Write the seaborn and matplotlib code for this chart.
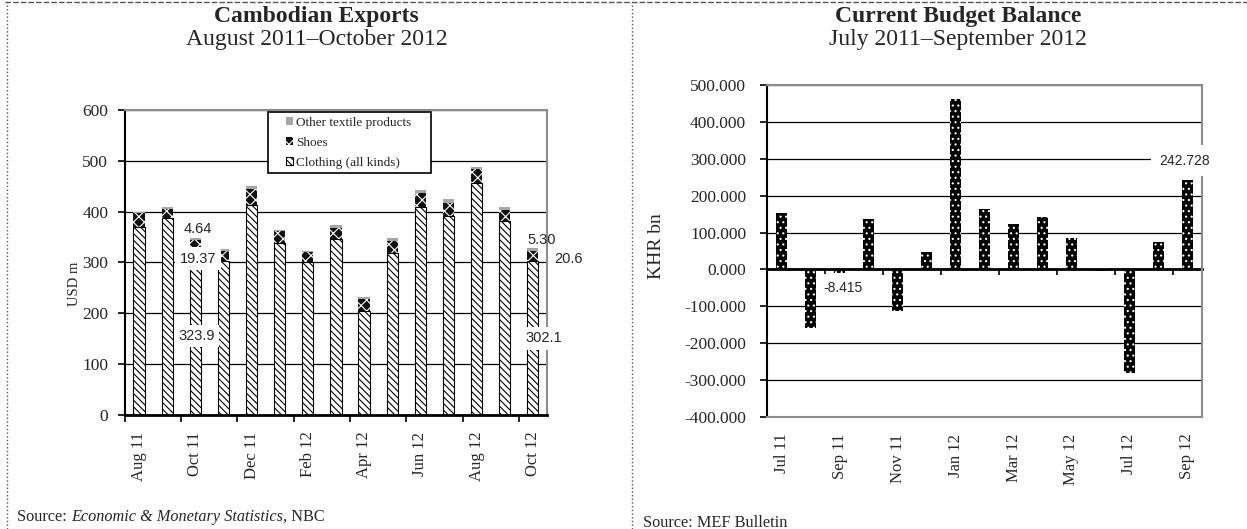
import matplotlib
matplotlib.use("Agg")
import matplotlib.pyplot as plt
from matplotlib.lines import Line2D
from matplotlib.patches import Rectangle
from matplotlib.legend_handler import HandlerPatch
from matplotlib.text import Annotation
import numpy as np
import pandas as pd
import seaborn as sns

# Cambodian exports, USD m (stacked: clothing, shoes, other textile products)
export_months = ["Aug 11", "Sep 11", "Oct 11", "Nov 11", "Dec 11", "Jan 12", "Feb 12", "Mar 12",
                 "Apr 12", "May 12", "Jun 12", "Jul 12", "Aug 12", "Sep 12", "Oct 12"]
clothing = [369, 387, 323.9, 303, 413, 338, 300, 346, 205, 318, 410, 392, 456, 381, 302.1]
shoes = [28, 18, 19.37, 20, 32, 23, 20, 22, 23, 25, 27, 26, 27, 23, 20.6]
other_textiles = [3, 5, 4.64, 4, 5, 3, 3, 5, 4, 5, 6, 6, 5, 5, 5.30]
export_legend = ["Other textile products", "Shoes", "Clothing (all kinds)"]

# Current budget balance, KHR bn
budget_months = ["Jul 11", "Aug 11", "Sep 11", "Oct 11", "Nov 11", "Dec 11", "Jan 12", "Feb 12",
                 "Mar 12", "Apr 12", "May 12", "Jun 12", "Jul 12", "Aug 12", "Sep 12"]
budget_balance = [154, -158, -8.415, 136, -113, 48, 461, 163, 123, 142, 85, -3, -281, 75, 242.728]

sns.set_style("white")
plt.rcParams["font.family"] = ["Liberation Serif", "DejaVu Serif"]
plt.rcParams["hatch.linewidth"] = 0.8
SANS = ["Liberation Sans", "DejaVu Sans"]
GREY = "#8c8c8c"

fig = plt.figure(figsize=(12.47, 5.29), dpi=100)
ax1 = fig.add_axes([0.1002, 0.2155, 0.3384, 0.5766])
ax2 = fig.add_axes([0.6151, 0.2117, 0.3488, 0.6276])

# ---------------- left: exports ----------------
exp = pd.DataFrame({"month": export_months, "clothing": clothing,
                    "shoes": shoes, "other": other_textiles})
exp["shoes_top"] = exp["clothing"] + exp["shoes"]
exp["total"] = exp["shoes_top"] + exp["other"]

sns.barplot(data=exp, x="month", y="total", color="#a6a6a6", width=0.4, saturation=1, ax=ax1)
sns.barplot(data=exp, x="month", y="shoes_top", color="#111111", width=0.4, saturation=1, ax=ax1)
sns.barplot(data=exp, x="month", y="clothing", color="white", width=0.4, saturation=1, ax=ax1)
other_bars, shoe_bars, cloth_bars = ax1.containers
for p in other_bars:
    p.set_linewidth(0)
for p in shoe_bars:
    p.set_hatch("xxx")
    p.set_edgecolor("white")
    p.set_linewidth(0)
for p in cloth_bars:
    p.set_hatch("\\\\\\\\\\")
    p.set_edgecolor("black")
    p.set_linewidth(0.8)

ax1.set_ylim(0, 600)
ax1.set_yticks(range(0, 601, 100))
ax1.set_xlim(-0.5, len(export_months) - 0.5)
ax1.grid(axis="y", color="black", linewidth=0.9)
ax1.set_xticks(range(0, len(export_months), 2))
ax1.set_xticklabels(export_months[::2], rotation=90)
ax1.set_xticks(np.arange(-0.5, len(export_months) - 1, 2), minor=True)
ax1.tick_params(axis="x", which="major", bottom=True, length=0, pad=12, labelsize=12)
ax1.tick_params(axis="x", which="minor", bottom=True, length=5, width=1.2, color="black", direction="out")
ax1.tick_params(axis="y", left=True, length=5, width=1.2, color="black", direction="out", labelsize=12.5, pad=7)
ax1.set_xlabel("")
ax1.set_ylabel("USD m", fontsize=10.5)
ax1.yaxis.set_label_coords(-0.104, 0.43)
for side, col, lw in [("left", "black", 1.5), ("bottom", "black", 2), ("top", GREY, 1.5), ("right", GREY, 1.5)]:
    ax1.spines[side].set_color(col)
    ax1.spines[side].set_linewidth(lw)

box = dict(boxstyle="square,pad=0.3", facecolor="white", edgecolor="none")
ax1.text(2.1, exp["total"][2] + 18, f"{other_textiles[2]:.2f}", ha="center", va="center",
         fontsize=10.5, family=SANS)
ax1.text(2.1, exp["shoes_top"][2] - 36, f"{shoes[2]:.2f}", ha="center", va="center",
         fontsize=10.5, family=SANS, bbox=box, zorder=5)
ax1.text(2.05, clothing[2] * 0.48, f"{clothing[2]:.1f}", ha="center", va="center",
         fontsize=10.5, family=SANS, bbox=box, zorder=5)
ax1.text(14.3, exp["total"][14] + 16, f"{other_textiles[14]:.2f}", ha="center", va="center",
         fontsize=10.5, family=SANS)
ax1.text(15.25, exp["shoes_top"][14] - 16, f"{shoes[14]:.1f}", ha="center", va="center",
         fontsize=10.5, family=SANS, bbox=box, clip_on=False, zorder=5)
ax1.text(14.4, clothing[14] * 0.5, f"{clothing[14]:.1f}", ha="center", va="center",
         fontsize=10.5, family=SANS, bbox=box, zorder=5)


def small_square(legend, orig_handle, xdescent, ydescent, width, height, fontsize):
    # little square at the right end of the handle box
    return Rectangle((width - height - xdescent, -ydescent), height, height)


leg = ax1.legend([other_bars.patches[0], shoe_bars.patches[0], cloth_bars.patches[0]], export_legend,
                 loc="upper left", bbox_to_anchor=(0.339, 0.0, 0.386, 0.993), mode="expand",
                 frameon=True, fancybox=False, edgecolor="black", framealpha=1, fontsize=9.5,
                 handlelength=1.55, handleheight=0.5, handletextpad=0.2, borderpad=0.35,
                 labelspacing=0.6, borderaxespad=0,
                 handler_map={Rectangle: HandlerPatch(patch_func=small_square)})
leg.get_frame().set_linewidth(1.2)

# ---------------- right: budget balance ----------------
sns.barplot(x=budget_months, y=budget_balance, color="black", width=0.4, saturation=1, ax=ax2)
for p in ax2.containers[0]:
    p.set_hatch("...")
    p.set_edgecolor("white")
    p.set_linewidth(0)

ax2.set_ylim(-400, 500)
ax2.set_yticks(range(-400, 501, 100))
ax2.yaxis.set_major_formatter(lambda v, pos: f"{v:.3f}")
ax2.set_xlim(-0.5, len(budget_months) - 0.5)
ax2.grid(axis="y", color="black", linewidth=0.9)
ax2.set_xticks(range(0, len(budget_months), 2))
ax2.set_xticklabels(budget_months[::2], rotation=90)
ax2.tick_params(axis="x", bottom=True, length=0, pad=12, labelsize=12)
ax2.tick_params(axis="y", left=True, length=5, width=1.2, color="black", direction="out", labelsize=12.5, pad=10)
ax2.set_ylabel("KHR bn", fontsize=14)
ax2.yaxis.set_label_coords(-0.235, 0.515)
for side, col, lw in [("left", "black", 1.5), ("bottom", GREY, 1.5), ("top", GREY, 1.5), ("right", GREY, 1.5)]:
    ax2.spines[side].set_color(col)
    ax2.spines[side].set_linewidth(lw)

# zero line with the between-label tick marks
zero = ax2.secondary_xaxis(400 / 900)
zero.set_xticks(np.arange(1.5, len(budget_months) - 1, 2))
zero.tick_params(axis="x", bottom=True, length=4, width=1.2, color="black", direction="out", labelbottom=False)
zero.spines["bottom"].set_color("black")
zero.spines["bottom"].set_linewidth(2)

ax2.text(2.12, -51, f"{budget_balance[2]:.3f}", ha="center", va="center", fontsize=10, family=SANS,
         bbox=dict(boxstyle="square,pad=0.5", facecolor="white", edgecolor="none"), zorder=5)
ax2.text(13.9, budget_balance[14] + 52, f"{budget_balance[14]:.3f}", ha="center", va="center",
         fontsize=10, family=SANS, clip_on=False, zorder=5,
         bbox=dict(boxstyle="square,pad=0.6", facecolor="white", edgecolor="none"))

# ---------------- titles, sources, panel borders ----------------
fig.text(0.254, 0.969, "Cambodian Exports", ha="center", va="center", fontsize=17, fontweight="bold")
fig.text(0.254, 0.925, "August 2011–October 2012", ha="center", va="center", fontsize=17)
fig.text(0.768, 0.969, "Current Budget Balance", ha="center", va="center", fontsize=17, fontweight="bold")
fig.text(0.768, 0.925, "July 2011–September 2012", ha="center", va="center", fontsize=17)

s1 = fig.text(0.0136, 0.008, "Source: ", ha="left", va="bottom", fontsize=11.7)
s2 = fig.add_artist(Annotation("Economic & Monetary Statistics", xy=(1, 0), xycoords=s1,
                               va="bottom", ha="left", style="italic", fontsize=11.7))
fig.add_artist(Annotation(", NBC", xy=(1, 0), xycoords=s2, va="bottom", ha="left", fontsize=11.7))
fig.text(0.5156, -0.004, "Source: MEF Bulletin", ha="left", va="bottom", fontsize=11.7)

border = dict(color="#555555", linewidth=1, transform=fig.transFigure)
fig.add_artist(Line2D([0.004, 1], [0.996, 0.996], linestyle=(0, (4, 1.5)), **border))
fig.add_artist(Line2D([0.0056, 0.0056], [0, 0.996], linestyle=":", **border))
fig.add_artist(Line2D([0.5068, 0.5068], [0, 0.996], linestyle=":", **border))

fig.savefig("out.png", dpi=100)
